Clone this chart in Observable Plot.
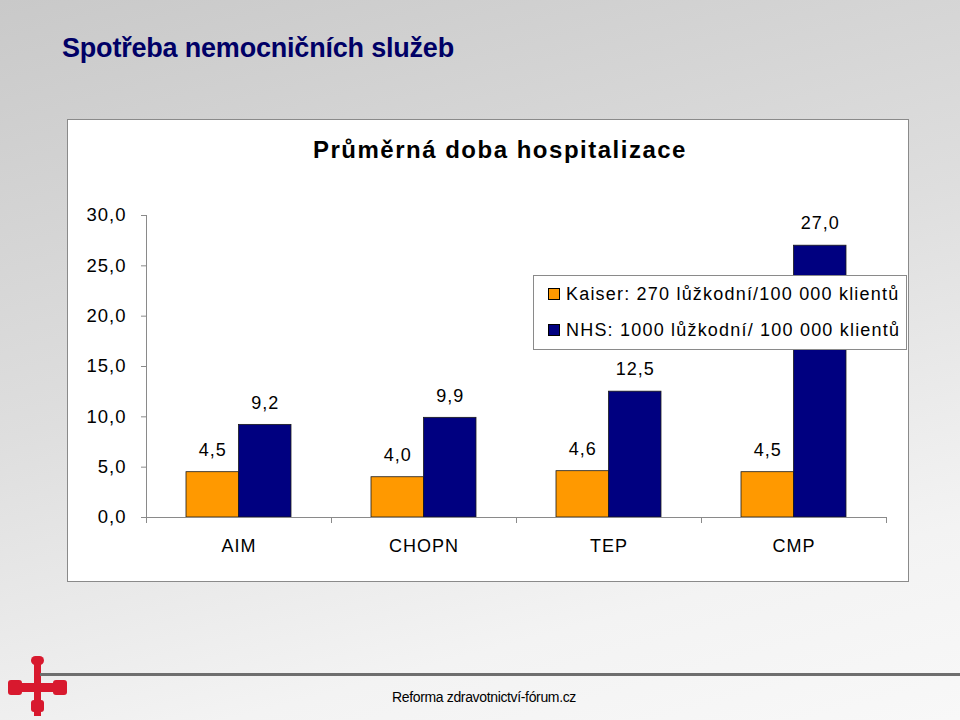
<!DOCTYPE html>
<html>
<head>
<meta charset="utf-8">
<script src="https://cdn.jsdelivr.net/npm/d3@7"></script>
<script src="https://cdn.jsdelivr.net/npm/@observablehq/plot@0.6"></script>
<style>
  html, body { margin: 0; padding: 0; }
  #page {
    position: relative; width: 960px; height: 720px; overflow: hidden;
    background: linear-gradient(165deg, #c9c9c9 0%, #dedede 45%, #f3f3f3 80%, #f8f8f8 100%);
    font-family: "Liberation Sans", Arial, sans-serif;
  }
  #title {
    position: absolute; left: 62px; top: 33px; font-weight: bold; font-size: 27px;
    letter-spacing: -0.2px; color: #000066; white-space: nowrap;
  }
  #box {
    position: absolute; left: 67px; top: 119px; width: 842px; height: 463px;
    box-sizing: border-box; background: #fff; border: 1px solid #8a8a8a;
  }
  #ctitle {
    position: absolute; left: 313px; top: 136px;
    font-weight: bold; font-size: 24px; letter-spacing: 1.5px; color: #000; white-space: nowrap;
  }
  #chart { position: absolute; left: 67px; top: 195px; }
  #legend {
    position: absolute; left: 533px; top: 275px; width: 374px; height: 75px;
    box-sizing: border-box; background: #fff; border: 1px solid #8a8a8a;
    font-size: 18px; letter-spacing: 1.2px; color: #000;
  }
  #legend .row { position: absolute; left: 14px; height: 22px; display: flex; align-items: center; white-space: nowrap; }
  #legend .sw { width: 10px; height: 10px; border: 1px solid #000; margin-right: 6px; }
  #footline { position: absolute; left: 40px; right: 0; top: 673px; height: 3px; background: #6e6e6e; }
  #foot {
    position: absolute; left: 392px; top: 689px; font-size: 14px; letter-spacing: -0.35px; color: #000;
    font-family: "Liberation Sans Narrow", "Liberation Sans", Arial, sans-serif;
    white-space: nowrap;
  }
  .logo { position: absolute; background: #d8192e; }
</style>
</head>
<body>
<div id="page">
  <div id="title">Spotřeba nemocničních služeb</div>
  <div id="box"></div>
  <div id="ctitle">Průměrná doba hospitalizace</div>
  <div id="chart"></div>
  <div id="legend"></div>
  <div class="logo" style="left:34px;top:660px;width:7px;height:56px;"></div>
  <div class="logo" style="left:10px;top:683px;width:56px;height:9px;"></div>
  <div class="logo" style="left:31px;top:656px;width:13px;height:9px;border-radius:5px;"></div>
  <div class="logo" style="left:31px;top:700px;width:13px;height:12px;border-radius:3px;"></div>
  <div class="logo" style="left:8px;top:680px;width:14px;height:15px;border-radius:3px;"></div>
  <div class="logo" style="left:53px;top:680px;width:14px;height:15px;border-radius:3px;"></div>
  <div id="footline"></div>
  <div id="foot">Reforma zdravotnictví-fórum.cz</div>
</div>
<script>
// ---- data ----
const categories = ["AIM", "CHOPN", "TEP", "CMP"];
const kaiserValues = [4.5, 4.0, 4.6, 4.5];
const nhsValues = [9.2, 9.9, 12.5, 27.0];
const seriesNames = ["Kaiser: 270 lůžkodní/100 000 klientů", "NHS: 1000 lůžkodní/ 100 000 klientů"];
const seriesColors = ["#FF9900", "#000080"];
const yTicks = [0, 5, 10, 15, 20, 25, 30];

const kaiserData = categories.map((c, i) => ({cat: c, v: kaiserValues[i]}));
const nhsData = categories.map((c, i) => ({cat: c, v: nhsValues[i]}));
const fmt = d => d.toFixed(1).replace(".", ",");

const W = 841, ML = 79, MR = 22;
const band = (W - ML - MR) / categories.length;
const gap = 40, barW = (band - 2 * gap) / 2;

const chart = Plot.plot({
  width: W, height: 386,
  marginLeft: ML, marginRight: MR, marginTop: 20, marginBottom: 64,
  style: {fontFamily: "'Liberation Sans', Arial, sans-serif", fontSize: "18px", color: "black", background: "transparent", letterSpacing: "1px"},
  x: {type: "band", domain: categories, padding: 0},
  y: {domain: [0, 30]},
  marks: [
    Plot.barY(kaiserData, {x: "cat", y: "v", fill: seriesColors[0], stroke: "#1a1a1a", strokeWidth: 0.8,
      insetLeft: gap, insetRight: gap + barW}),
    Plot.barY(nhsData, {x: "cat", y: "v", fill: seriesColors[1], stroke: "#1a1a1a", strokeWidth: 0.8,
      insetLeft: gap + barW, insetRight: gap}),
    Plot.ruleY([0], {stroke: "#8a8a8a"}),
    Plot.ruleX([categories[0]], {x: d => d, dx: -band / 2, stroke: "#8a8a8a"}),
    Plot.ruleX(categories, {x: d => d, y1: 0, y2: 0, dx: -band / 2, insetBottom: -6, stroke: "#8a8a8a"}),
    Plot.ruleX([categories[categories.length - 1]], {x: d => d, y1: 0, y2: 0, dx: band / 2, insetBottom: -6, stroke: "#8a8a8a"}),
    Plot.text(kaiserData, {x: "cat", y: "v", text: d => fmt(d.v), dx: -barW / 2, dy: -22}),
    Plot.text(nhsData, {x: "cat", y: "v", text: d => fmt(d.v), dx: barW / 2, dy: -22}),
    Plot.axisY({ticks: yTicks, tickSize: 5, tickPadding: 15, tickFormat: fmt, stroke: "#8a8a8a", fill: "black", fontSize: 18.5, label: null}),
    Plot.axisX({tickSize: 0, tickPadding: 22, label: null, fill: "black"})
  ]
});
document.getElementById("chart").appendChild(chart);

// legend from series
const legend = document.getElementById("legend");
seriesNames.forEach((name, i) => {
  const row = document.createElement("div");
  row.className = "row";
  row.style.top = (7 + i * 36) + "px";
  const sw = document.createElement("span");
  sw.className = "sw";
  sw.style.background = seriesColors[i];
  const t = document.createElement("span");
  t.textContent = name;
  row.appendChild(sw); row.appendChild(t);
  legend.appendChild(row);
});
</script>
</body>
</html>
